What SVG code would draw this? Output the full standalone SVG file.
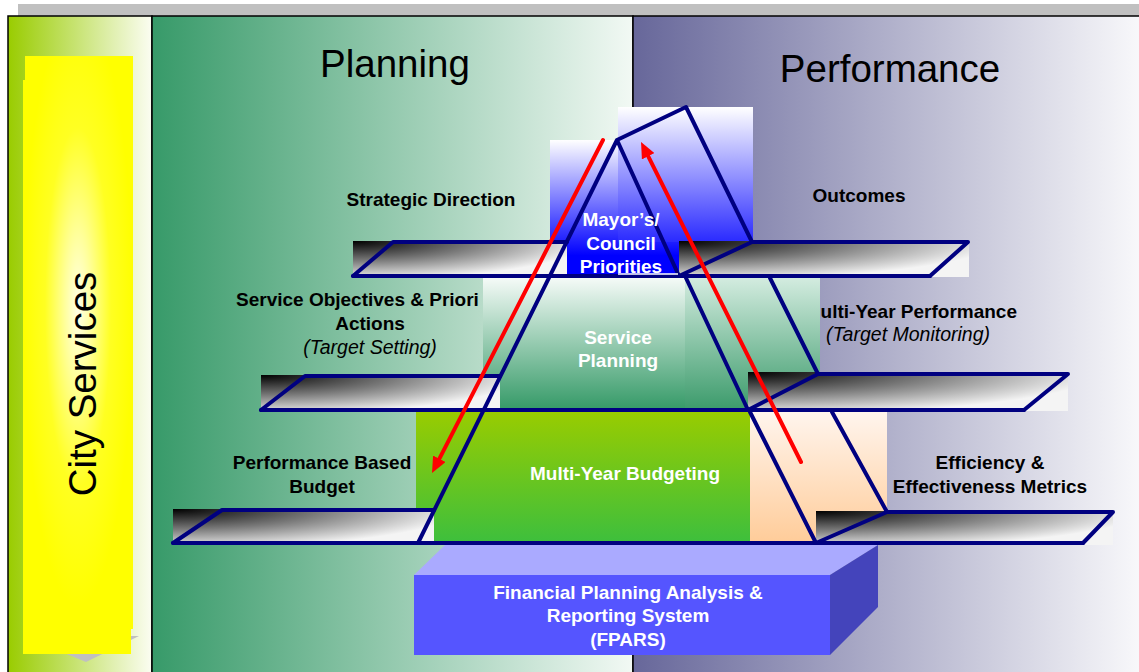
<svg xmlns="http://www.w3.org/2000/svg" width="1139" height="672" viewBox="0 0 1139 672">
<style>
.navy{fill:none;stroke:#000080;stroke-width:4;stroke-linejoin:round;stroke-linecap:round}
.lbl{font-family:"Liberation Sans",Arial,sans-serif;font-size:19px;font-weight:bold;fill:#000;text-anchor:middle}
.ital{font-family:"Liberation Sans",Arial,sans-serif;font-size:19.5px;font-style:italic;fill:#000;text-anchor:middle}
.wlbl{font-family:"Liberation Sans",Arial,sans-serif;font-size:19px;font-weight:bold;fill:#fff;text-anchor:middle}
.head{font-family:"Liberation Sans",Arial,sans-serif;font-size:38.5px;fill:#000;text-anchor:middle}
.red{fill:none;stroke:#ff0000;stroke-width:4;stroke-linecap:round}
</style>
<defs>
<linearGradient id="gLeft" x1="0" y1="0" x2="1" y2="0"><stop offset="0" stop-color="#99cc00"/><stop offset="1" stop-color="#fbfdf2"/></linearGradient>
<radialGradient id="gYellow" cx="0.5" cy="0.42" r="0.5"><stop offset="0" stop-color="#ffffe8"/><stop offset="0.25" stop-color="#ffff99"/><stop offset="0.6" stop-color="#ffff22"/><stop offset="1" stop-color="#ffff00"/></radialGradient>
<linearGradient id="gPlan" x1="0" y1="0" x2="1" y2="0"><stop offset="0" stop-color="#379a69"/><stop offset="1" stop-color="#f2f9f4"/></linearGradient>
<linearGradient id="gPerf" x1="0" y1="0" x2="1" y2="0"><stop offset="0" stop-color="#67679a"/><stop offset="1" stop-color="#f9f9fb"/></linearGradient>
<radialGradient id="gShelf" cx="0" cy="0" r="1.1" fx="0" fy="0"><stop offset="0" stop-color="#000"/><stop offset="0.5" stop-color="#777"/><stop offset="1" stop-color="#f4f4f4"/></radialGradient>
<linearGradient id="gBlueA" x1="0" y1="0" x2="0" y2="1"><stop offset="0" stop-color="#ffffff"/><stop offset="0.85" stop-color="#0000ff"/></linearGradient>
<linearGradient id="gBlueB" x1="0" y1="0" x2="0" y2="1"><stop offset="0" stop-color="#ffffff"/><stop offset="1" stop-color="#2a2aff"/></linearGradient>
<linearGradient id="gSP" x1="0" y1="0" x2="0" y2="1"><stop offset="0" stop-color="#f6fbf8"/><stop offset="1" stop-color="#339966"/></linearGradient>
<linearGradient id="gSPR" x1="0" y1="0" x2="0" y2="1"><stop offset="0" stop-color="#d4ece0"/><stop offset="1" stop-color="#3a9a6a"/></linearGradient>
<linearGradient id="gLime" x1="0" y1="0" x2="0" y2="1"><stop offset="0" stop-color="#99cc00"/><stop offset="1" stop-color="#3dbf3d"/></linearGradient>
<linearGradient id="gPeach" x1="0" y1="0" x2="0" y2="1"><stop offset="0" stop-color="#fff5ee"/><stop offset="1" stop-color="#ffcc99"/></linearGradient>
<marker id="arrow" markerUnits="userSpaceOnUse" viewBox="0 0 16 14" markerWidth="16" markerHeight="14" refX="4" refY="7" orient="auto"><path d="M0,0 L16,7 L0,14 z" fill="#ff0000"/></marker>
</defs>

<g id="background">
<rect x="18" y="4" width="1121" height="12" fill="#c0c0c0"/>
<rect x="8" y="16" width="144" height="660" fill="url(#gLeft)" stroke="#000" stroke-width="1.5"/>
<rect x="152" y="16" width="481" height="660" fill="url(#gPlan)" stroke="#000" stroke-width="1.5"/>
<rect x="633" y="16" width="510" height="660" fill="url(#gPerf)" stroke="#000" stroke-width="1.5"/>
</g>

<g id="city-services">
<polygon points="23,636 139,636 86,662" fill="#c0c0c0"/>
<polygon points="25,56 133,56 133,629 131,629 131,654 23,654 23,80 25,80" fill="url(#gYellow)"/>
<text class="head" transform="translate(96,384) rotate(-90)">City Services</text>
</g>

<g id="planning-header"><text class="head" x="395" y="77">Planning</text></g>
<g id="performance-header"><text class="head" x="890" y="82">Performance</text></g>

<g id="mayors-council-priorities">
<rect x="550" y="140" width="130" height="136" fill="url(#gBlueA)"/>
<rect x="618" y="107" width="135" height="135" fill="url(#gBlueB)"/>
</g>

<g id="service-planning">
<rect x="483" y="277" width="202" height="134" fill="url(#gSP)"/>
<rect x="685" y="277" width="135" height="134" fill="url(#gSPR)"/>
</g>

<g id="multi-year-budgeting">
<rect x="416" y="411" width="336" height="132" fill="url(#gLime)"/>
<rect x="750" y="411" width="137" height="132" fill="url(#gPeach)"/>
</g>

<g id="shelves">
<rect x="353" y="241" width="214" height="35" fill="url(#gShelf)"/>
<rect x="679" y="241" width="290" height="36" fill="url(#gShelf)"/>
<rect x="261" y="375" width="239" height="36" fill="url(#gShelf)"/>
<rect x="748" y="372" width="320" height="39" fill="url(#gShelf)"/>
<rect x="173" y="509" width="261" height="36" fill="url(#gShelf)"/>
<rect x="816" y="511" width="297" height="34" fill="url(#gShelf)"/>
</g>

<g id="outlines">
<path class="navy" d="M353,276 L393,242 L567,242 M261,410 L305,376 L500,376 M173,543 L222,510 L434,510"/>
<path class="navy" d="M353,276 H930 M261,410 H1024 M173,543 H1083"/>
<path class="navy" d="M679,276 L752,242 H968 L930,276 M748,410 L818,374 H1068 L1024,410 M816,543 L887,512 H1113 L1083,543"/>
<path class="navy" d="M617,140 L418,543 M679,276 L617,140 L686,107 L752,242 M686,278 L748,410 M770,278 L818,374 M750,412 L816,543 M832,412 L887,512"/>
<line x1="618" y1="274" x2="678" y2="274" stroke="#fff" stroke-width="1.5"/>
</g>

<g id="strategic-direction"><text class="lbl" x="431" y="206">Strategic Direction</text></g>
<g id="outcomes"><text class="lbl" x="859" y="202">Outcomes</text></g>
<g id="service-objectives">
<text class="lbl" x="236" y="306" style="text-anchor:start">Service Objectives &amp; Priori</text>
<text class="lbl" x="370" y="330">Actions</text>
<text class="ital" x="370" y="354">(Target Setting)</text>
</g>
<g id="multi-year-performance">
<text class="lbl" x="1017" y="318" style="text-anchor:end">ulti-Year Performance</text>
<text class="ital" x="908" y="341">(Target Monitoring)</text>
</g>
<g id="performance-based-budget">
<text class="lbl" x="322" y="469">Performance Based</text>
<text class="lbl" x="322" y="493">Budget</text>
</g>
<g id="efficiency-metrics">
<text class="lbl" x="990" y="469">Efficiency &amp;</text>
<text class="lbl" x="990" y="493">Effectiveness Metrics</text>
</g>
<g id="mayors-label">
<text class="wlbl" x="621" y="226">Mayor’s/</text>
<text class="wlbl" x="621" y="250">Council</text>
<text class="wlbl" x="621" y="273">Priorities</text>
</g>
<g id="service-planning-label">
<text class="wlbl" x="618" y="344">Service</text>
<text class="wlbl" x="618" y="367">Planning</text>
</g>
<g id="multi-year-budgeting-label"><text class="wlbl" x="625" y="480">Multi-Year Budgeting</text></g>

<g id="fpars">
<polygon points="414,575 445,545 878,545 830,575" fill="#aaaaff"/>
<polygon points="830,575 878,545 878,607 830,655" fill="#4444bb"/>
<rect x="414" y="575" width="416" height="80" fill="#5555ff"/>
<text class="wlbl" x="628" y="599">Financial Planning Analysis &amp;</text>
<text class="wlbl" x="628" y="622">Reporting System</text>
<text class="wlbl" x="628" y="646">(FPARS)</text>
</g>

<g id="connectors">
<line class="red" x1="603" y1="140" x2="437.5" y2="462.3" marker-end="url(#arrow)"/>
<line class="red" x1="801" y1="462" x2="646.4" y2="152.7" marker-end="url(#arrow)"/>
</g>
</svg>
